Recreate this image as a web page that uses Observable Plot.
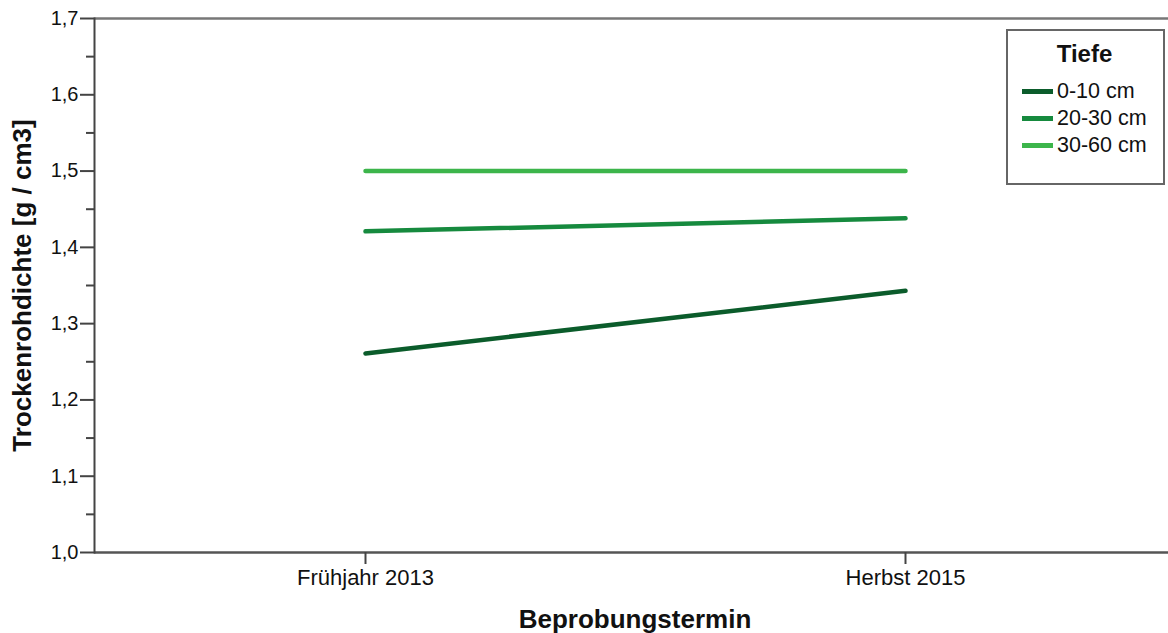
<!DOCTYPE html>
<html><head><meta charset="utf-8">
<script src="https://cdn.jsdelivr.net/npm/d3@7"></script>
<script src="https://cdn.jsdelivr.net/npm/@observablehq/plot@0.6"></script>
<style>
html,body{margin:0;padding:0;background:#fff;overflow:hidden;}
#wrap{position:relative;width:1168px;height:633px;font-family:"Liberation Sans",Arial,sans-serif;}
#legend{position:absolute;left:1006px;top:29px;width:155px;height:152px;border:2px solid #666;background:#fff;color:#111;}
#legend .ttl{font-weight:bold;font-size:24px;text-align:center;margin-top:9px;margin-left:-2px;}
#legend .row{display:flex;align-items:center;height:27px;margin-left:14px;font-size:21.5px;}
#legend .sw{width:31px;height:5px;margin-right:4px;}
#legend .rows{margin-top:10px;}
g[aria-label="x-axis label"], g[aria-label="y-axis label"]{font-weight:bold;font-size:26px;}
</style></head><body><div id="wrap"></div><script>
const terms = ["Frühjahr 2013", "Herbst 2015"];
const depths = ["0-10 cm", "20-30 cm", "30-60 cm"];
const colors = ["#0b5c2b", "#168a3e", "#3cb54b"];
const v0_10 = [1.261, 1.343];
const v20_30 = [1.421, 1.438];
const v30_60 = [1.500, 1.500];
const yTicks = [1.0, 1.1, 1.2, 1.3, 1.4, 1.5, 1.6, 1.7];
const yMinor = [1.05, 1.15, 1.25, 1.35, 1.45, 1.55, 1.65];

const series = [v0_10, v20_30, v30_60];
const data = [];
depths.forEach((d, i) => terms.forEach((t, j) => data.push({depth: d, term: t, value: series[i][j]})));
const fmt = v => v.toFixed(1).replace(".", ",");

const chart = Plot.plot({
  width: 1168, height: 633,
  marginLeft: 94, marginRight: -7, marginTop: 18, marginBottom: 81,
  style: {fontFamily: "Liberation Sans, Arial, sans-serif", color: "#111", background: "#fff"},
  x: {type: "point", domain: terms, padding: 0.5},
  y: {domain: [1.0, 1.7]},
  color: {domain: depths, range: colors},
  marks: [
    Plot.ruleY([1.7], {stroke: "#777", strokeWidth: 2.5}),
    Plot.ruleY([1.0], {stroke: "#555", strokeWidth: 2.5}),
    Plot.frame({anchor: "left", stroke: "#444", strokeWidth: 2}),
    Plot.axisY({ticks: yMinor, tickSize: 8, text: null, label: null, stroke: "#444", strokeWidth: 2, strokeOpacity: 1}),
    Plot.axisY({ticks: yTicks, tickSize: 14, tickPadding: 2, tickFormat: fmt, fontSize: 20,
      stroke: "#444", strokeWidth: 2, strokeOpacity: 1, label: "Trockenrohdichte [g / cm3]", labelAnchor: "center", labelArrow: "none", labelOffset: 82}),
    Plot.axisX({tickSize: 12, tickPadding: 5, fontSize: 22, stroke: "#444", strokeWidth: 2, strokeOpacity: 1,
      label: "Beprobungstermin", labelAnchor: "center", labelArrow: "none", labelOffset: 75}),
    Plot.lineY(data, {x: "term", y: "value", z: "depth", stroke: "depth", strokeWidth: 4.5})
  ]
});
const wrap = document.getElementById("wrap");
wrap.appendChild(chart);
const leg = document.createElement("div");
leg.id = "legend";
leg.innerHTML = `<div class="ttl">Tiefe</div><div class="rows">` +
  depths.map((d, i) => `<div class="row"><div class="sw" style="background:${colors[i]}"></div><span>${d}</span></div>`).join("") + `</div>`;
wrap.appendChild(leg);
</script></body></html>
